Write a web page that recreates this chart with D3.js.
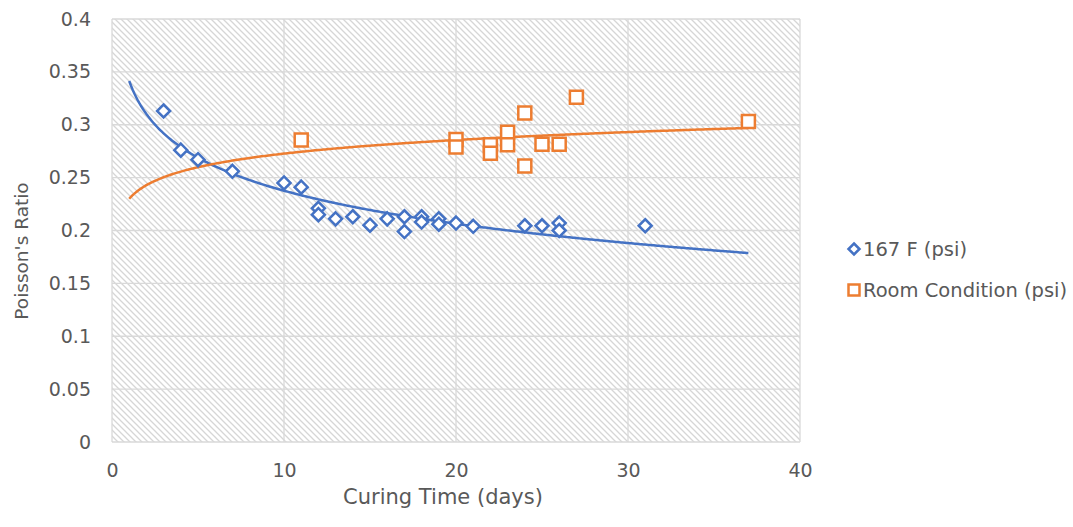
<!DOCTYPE html>
<html>
<head>
<meta charset="utf-8">
<script src="https://cdn.jsdelivr.net/npm/d3@7/dist/d3.min.js"></script>
<style>
  html, body { margin: 0; padding: 0; background: #fff; }
  svg text { font-family: "DejaVu Sans", "Open Sans", sans-serif; fill: #595959; }
</style>
</head>
<body>
<svg id="chart" width="1073" height="527"></svg>
<script>
// Poisson's ratio against curing time for two curing conditions
const days167 = [3, 4, 5, 7, 10, 11, 12, 12, 13, 14, 15, 16, 17, 17, 18, 18, 19, 19, 20, 21, 24, 25, 26, 26, 31];
const ratio167 = [0.313, 0.276, 0.267, 0.256, 0.245, 0.241, 0.221, 0.215, 0.211, 0.213, 0.205, 0.211, 0.213, 0.199, 0.213, 0.208, 0.211, 0.206, 0.207, 0.204, 0.2045, 0.2045, 0.207, 0.200, 0.2045];

const daysRoom = [11, 20, 20, 22, 22, 23, 23, 24, 24, 25, 26, 27, 37];
const ratioRoom = [0.2856, 0.286, 0.279, 0.281, 0.273, 0.293, 0.281, 0.311, 0.261, 0.2815, 0.2815, 0.326, 0.303];

const seriesNames = ["167 F (psi)", "Room Condition (psi)"];
const xTicks = [0, 10, 20, 30, 40];
const yTicks = [0, 0.05, 0.1, 0.15, 0.2, 0.25, 0.3, 0.35, 0.4];
const trendRange = [1, 37];

const colors = ["#4472C4", "#ED7D31"];

const svg = d3.select("#chart");
const plot = { left: 112, top: 19, right: 800, bottom: 442 };

const x = d3.scaleLinear().domain([0, 40]).range([plot.left, plot.right]);
const y = d3.scaleLinear().domain([0, 0.4]).range([plot.bottom, plot.top]);

// diagonal hatch fill for the plot area
const defs = svg.append("defs");
const pat = defs.append("pattern")
  .attr("id", "hatch")
  .attr("patternUnits", "userSpaceOnUse")
  .attr("width", 6).attr("height", 6);
pat.append("rect").attr("width", 6).attr("height", 6).attr("fill", "#ffffff");
pat.append("path")
  .attr("d", "M-1,-1 L7,7 M-1,5 L1,7 M5,-1 L7,1")
  .attr("stroke", "#d6d6d6").attr("stroke-width", 1.3);

svg.append("rect")
  .attr("x", plot.left).attr("y", plot.top)
  .attr("width", plot.right - plot.left).attr("height", plot.bottom - plot.top)
  .attr("fill", "url(#hatch)");

// gridlines
const grid = svg.append("g").attr("stroke", "#d9d9d9").attr("stroke-width", 1.3);
grid.selectAll("line.h").data(yTicks).join("line")
  .attr("x1", plot.left).attr("x2", plot.right)
  .attr("y1", d => y(d)).attr("y2", d => y(d));
grid.selectAll("line.v").data(xTicks).join("line")
  .attr("y1", plot.top).attr("y2", plot.bottom)
  .attr("x1", d => x(d)).attr("x2", d => x(d));

// axes (labels only)
const xAxis = d3.axisBottom(x).tickValues(xTicks).tickSize(0).tickPadding(0).tickFormat(d3.format("d"));
const gx = svg.append("g").attr("transform", `translate(0,${plot.bottom + 21})`).call(xAxis);
gx.select(".domain").remove();
gx.selectAll("text").attr("dy", "0.71em").style("font-size", "19px").style("fill", "#595959")
  .style("font-family", "DejaVu Sans, sans-serif");

const yAxis = d3.axisLeft(y).tickValues(yTicks).tickSize(0).tickPadding(0).tickFormat(d => String(+d.toFixed(2)));
const gy = svg.append("g").attr("transform", `translate(${plot.left - 21},0)`).call(yAxis);
gy.select(".domain").remove();
gy.selectAll("text").style("font-size", "19px").style("fill", "#595959")
  .style("font-family", "DejaVu Sans, sans-serif");

// axis titles
svg.append("text")
  .attr("x", 443).attr("y", 504)
  .attr("text-anchor", "middle")
  .style("font-size", "21px")
  .text("Curing Time (days)");
svg.append("text")
  .attr("transform", "translate(28,251) rotate(-90)")
  .attr("text-anchor", "middle")
  .style("font-size", "18.5px")
  .text("Poisson's Ratio");

// logarithmic least-squares trendline: y = a + b ln(x)
function logFit(xs, ys) {
  const lx = xs.map(Math.log);
  const mx = d3.mean(lx), my = d3.mean(ys);
  let sxy = 0, sxx = 0;
  lx.forEach((v, i) => { sxy += (v - mx) * (ys[i] - my); sxx += (v - mx) * (v - mx); });
  const b = sxy / sxx;
  return { a: my - b * mx, b };
}

const series = [
  { days: days167, vals: ratio167, color: colors[0], shape: "diamond" },
  { days: daysRoom, vals: ratioRoom, color: colors[1], shape: "square" }
];

const line = d3.line().x(d => x(d[0])).y(d => y(d[1])).curve(d3.curveLinear);

series.forEach(s => {
  const fit = logFit(s.days, s.vals);
  const pts = d3.range(trendRange[0], trendRange[1] + 0.001, 0.1).map(t => [t, fit.a + fit.b * Math.log(t)]);
  svg.append("path")
    .datum(pts)
    .attr("d", line)
    .attr("fill", "none")
    .attr("stroke", s.color)
    .attr("stroke-width", 2.5);
});

function markerPath(shape, cx, cy, r) {
  if (shape === "diamond") {
    return `M${cx},${cy - r} L${cx + r},${cy} L${cx},${cy + r} L${cx - r},${cy} Z`;
  }
  return `M${cx - r},${cy - r} H${cx + r} V${cy + r} H${cx - r} Z`;
}

series.forEach(s => {
  svg.append("g").selectAll("path")
    .data(s.days.map((d, i) => [d, s.vals[i]]))
    .join("path")
    .attr("d", d => markerPath(s.shape, x(d[0]), y(d[1]), 6.5))
    .attr("fill", "#ffffff")
    .attr("stroke", s.color)
    .attr("stroke-width", 2.5);
});

// legend
const legend = svg.append("g");
const legendRows = [
  { name: seriesNames[0], color: colors[0], shape: "diamond", y: 249 },
  { name: seriesNames[1], color: colors[1], shape: "square", y: 290 }
];
legendRows.forEach(r => {
  legend.append("path")
    .attr("d", markerPath(r.shape, 854, r.y, 5.5))
    .attr("fill", "#ffffff")
    .attr("stroke", r.color)
    .attr("stroke-width", 2.5);
  legend.append("text")
    .attr("x", 863).attr("y", r.y)
    .attr("dy", "0.35em")
    .style("font-size", "19.5px")
    .text(r.name);
});
</script>
</body>
</html>
